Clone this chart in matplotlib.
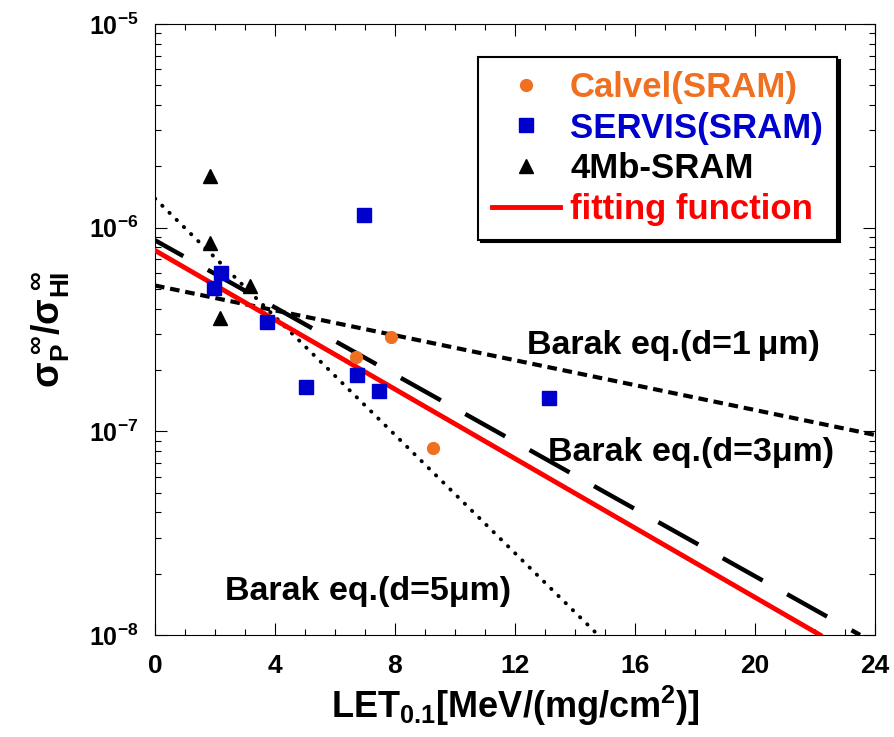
import numpy as np
import matplotlib
matplotlib.use("Agg")
from matplotlib import pyplot as plt
from matplotlib.ticker import MultipleLocator, LogLocator, NullFormatter

plt.rcParams['font.family'] = ['Liberation Sans', 'DejaVu Sans']
plt.rcParams['font.weight'] = 'bold'
plt.rcParams['axes.labelweight'] = 'bold'
plt.rcParams['mathtext.fontset'] = 'custom'
plt.rcParams['mathtext.rm'] = 'Liberation Sans:bold'
plt.rcParams['mathtext.it'] = 'Liberation Sans:bold'
plt.rcParams['mathtext.bf'] = 'Liberation Sans:bold'
plt.rcParams['mathtext.sf'] = 'Liberation Sans:bold'
plt.rcParams['mathtext.default'] = 'bf'

# measured points
calvel_x = [6.7, 7.87, 9.27]
calvel_y = [2.33e-7, 2.92e-7, 8.3e-8]

servis_x = [2.2, 1.97, 3.73, 6.97, 5.03, 6.73, 7.47, 13.13]
servis_y = [5.96e-7, 5.08e-7, 3.46e-7, 1.15e-6, 1.66e-7, 1.90e-7, 1.57e-7, 1.46e-7]

sram4mb_x = [1.83, 1.83, 3.17, 2.17]
sram4mb_y = [1.79e-6, 8.4e-7, 5.2e-7, 3.6e-7]

# lines (straight in log space, end points)
fit_x = [0.0, 22.17]
fit_y = [7.73e-7, 1.0e-8]
barak1_x = [0.0, 24.0]
barak1_y = [5.2e-7, 9.6e-8]
barak3_x = [0.0, 23.5]
barak3_y = [8.67e-7, 1.0e-8]
barak5_x = [0.0, 14.77]
barak5_y = [1.39e-6, 1.0e-8]

fig = plt.figure(figsize=(8.94, 7.37), dpi=100)
ax = fig.add_axes([155/894, 102/737, 720/894, 611/737])

ax.plot(barak1_x, barak1_y, color='k', lw=3, linestyle=(0, (2.3, 1.4)))
ax.plot(barak3_x, barak3_y, color='k', lw=3.2, linestyle=(3, (10.3, 6.3)))
ax.plot(barak5_x, barak5_y, color='k', lw=2.8, linestyle=(0, (0.1, 2.5)),
        dash_capstyle='round')
ax.plot(fit_x, fit_y, color='#ff0000', lw=3.5, label='fitting function', zorder=3)

ax.plot(calvel_x, calvel_y, 'o', color='#ee7020', ms=8.5, label='Calvel(SRAM)', zorder=4)
ax.plot(servis_x, servis_y, 's', color='#0000cc', ms=10, label='SERVIS(SRAM)', zorder=4)
ax.plot(sram4mb_x, sram4mb_y, '^', color='k', ms=10, label='4Mb-SRAM', zorder=4)

ax.set_yscale('log')
ax.set_xlim(0, 24)
ax.set_ylim(1e-8, 1e-5)
ax.xaxis.set_major_locator(MultipleLocator(4))
ax.xaxis.set_minor_locator(MultipleLocator(1))
ax.yaxis.set_major_locator(LogLocator(base=10, numticks=10))
ax.yaxis.set_minor_locator(LogLocator(base=10, subs=np.arange(2, 10), numticks=10))
ax.yaxis.set_minor_formatter(NullFormatter())
ax.tick_params(which='both', direction='in', top=True, right=True, width=0.8)
ax.tick_params(which='major', length=8.5)
ax.tick_params(which='minor', length=4.5)
ax.tick_params(axis='x', pad=14, labelsize=19)
ax.tick_params(axis='y', pad=12, labelsize=18)
for s in ax.spines.values():
    s.set_linewidth(0.8)

ax.set_xlabel(r'LET$_{0.1}$[MeV/(mg/cm$^{2}$)]', fontsize=26, labelpad=4)
ax.set_ylabel(r'$\sigma_P^{\ \infty}/\sigma_{HI}^{\ \infty}$', fontsize=27, labelpad=12)

ax.text(12.4, 2.64e-7, 'Barak eq.(d=1\u2009\u03bcm)', fontsize=24.5, va='center')
ax.text(13.1, 7.85e-8, 'Barak eq.(d=3\u03bcm)', fontsize=24.5, va='center')
ax.text(2.33, 1.64e-8, 'Barak eq.(d=5\u03bcm)', fontsize=24.5, va='center')

handles, labels = ax.get_legend_handles_labels()
order = [1, 2, 3, 0]
leg = ax.legend([handles[i] for i in order], [labels[i] for i in order],
                loc='upper right', bbox_to_anchor=(0.947, 0.946), borderaxespad=0,
                fontsize=25, handlelength=1.95, handletextpad=0.3, labelspacing=0.22,
                borderpad=0.4, fancybox=False, framealpha=1, edgecolor='k',
                shadow={'color': 'k', 'alpha': 1},
                labelcolor=['#ee7020', '#0000cc', 'k', '#ff0000'])
leg.get_frame().set_linewidth(1.5)

fig.savefig('out.png', dpi=100)
